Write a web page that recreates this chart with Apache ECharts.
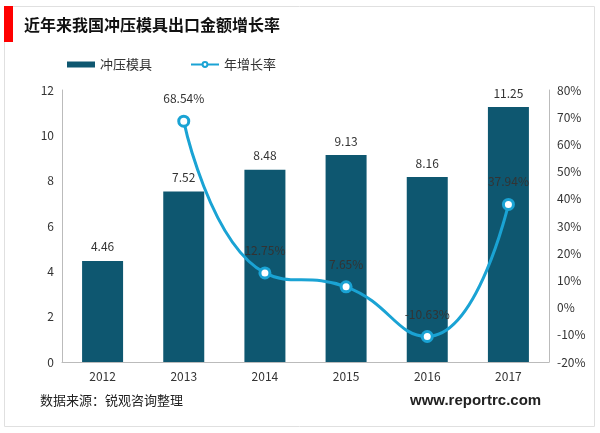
<!DOCTYPE html><html><head><meta charset="utf-8"><script src="https://cdn.jsdelivr.net/npm/echarts@6/dist/echarts.min.js"></script>
<style>body{margin:0}#c{width:600px;height:433px}</style></head><body><div id="c"></div><script>
const years=['2012','2013','2014','2015','2016','2017'];
const amount=[4.46,7.52,8.48,9.13,8.16,11.25];
const growth=[null,68.54,12.75,7.65,-10.63,37.94];
const ch=echarts.init(document.getElementById('c'));
const ff='"Noto Sans CJK SC", sans-serif';
ch.setOption({
 animation:false,
 textStyle:{fontFamily:ff},
 graphic:[
  {type:'rect',shape:{x:4.5,y:6.5,width:590,height:420},style:{fill:'none',stroke:'#e0e0e0'}},
  {type:'rect',shape:{x:4,y:6,width:9,height:36},style:{fill:'#ff0000'}},
  {type:'text',left:24,top:17,style:{text:'近年来我国冲压模具出口金额增长率',font:'bold 16px '+ff,fill:'#111'}},
  {type:'text',left:40,top:394,style:{text:'数据来源：锐观咨询整理',font:'13px '+ff,fill:'#222'}},
  {type:'text',left:410,top:393,style:{text:'www.reportrc.com',font:'bold 15px Arial',fill:'#222'}}
 ],
 legend:{top:53,left:62,itemGap:38,textStyle:{fontSize:13,color:'#333'},
  data:[{name:'冲压模具',icon:'rect'},{name:'年增长率'}],itemWidth:28,itemHeight:6},
 grid:{left:62,right:51,top:90,bottom:71},
 xAxis:{type:'category',data:years,axisTick:{show:false},axisLine:{lineStyle:{color:'#bbb'}},axisLabel:{color:'#333',fontSize:12}},
 yAxis:[
  {type:'value',min:0,max:12,interval:2,axisLine:{show:true,lineStyle:{color:'#bbb'}},axisLabel:{color:'#333'},splitLine:{show:false}},
  {type:'value',min:-20,max:80,interval:10,axisLine:{show:true,lineStyle:{color:'#bbb'}},axisLabel:{color:'#333',formatter:'{value}%'},splitLine:{show:false}}
 ],
 series:[
  {name:'冲压模具',type:'bar',data:amount,barWidth:41,itemStyle:{color:'#0e5770'},label:{show:true,position:'top',color:'#333',fontSize:12,distance:8}},
  {name:'年增长率',type:'line',yAxisIndex:1,data:growth,smooth:true,symbol:'circle',symbolSize:10,
   lineStyle:{color:'#1aa3d4',width:3},itemStyle:{color:'#fff',borderColor:'#1aa3d4',borderWidth:3},
   label:{show:true,position:'top',distance:10,color:'#333',fontSize:12,formatter:p=>p.value.toFixed(2)+'%'}}
 ]
});
</script></body></html>
